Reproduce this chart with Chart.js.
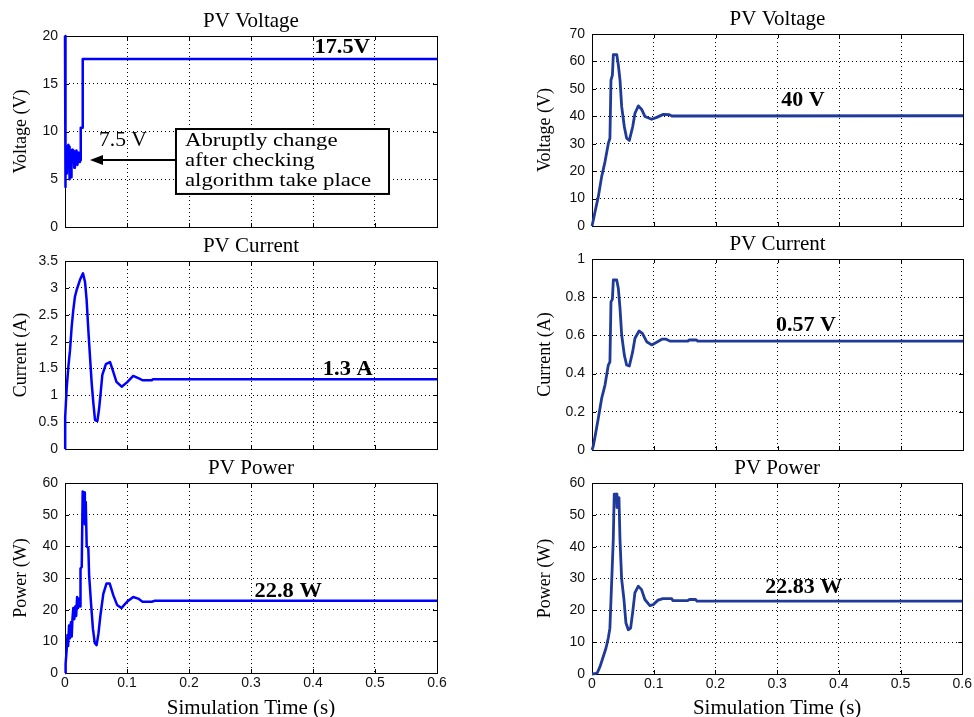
<!DOCTYPE html>
<html><head><meta charset="utf-8">
<script src="https://cdn.jsdelivr.net/npm/chart.js@4.4.1/dist/chart.umd.min.js"></script>
<style>
html,body{margin:0;padding:0;background:#fff;overflow:hidden;width:974px;height:717px}
#wrap{position:relative;width:974px;height:717px;overflow:hidden;background:#fff}
canvas{position:absolute;left:0;top:0}
</style></head><body><div id="wrap">
<canvas id="c1" width="974" height="760"></canvas>
<canvas id="c2" width="974" height="760"></canvas>
<canvas id="c3" width="974" height="760"></canvas>
<canvas id="c4" width="974" height="760"></canvas>
<canvas id="c5" width="974" height="760"></canvas>
<canvas id="c6" width="974" height="760"></canvas>
</div>
<script>
// ---------- DATA ----------
const xTickLabels = ['0','0.1','0.2','0.3','0.4','0.5','0.6'];

// Left column (blue)
const tVoltL = [0,0.0004,0.0012,0.002,0.003,0.004,0.0055,0.0065,0.007,0.0078,0.009,0.0098,0.0105,0.0115,0.0125,0.0135,0.015,0.016,0.017,0.0185,0.02,0.0215,0.023,0.024,0.0252,0.0254,0.0283,0.0286,0.6];
const vVoltL = [20,4.2,7.4,5.6,7.3,8.4,8.6,8.4,5.0,7.9,8.0,5.2,7.6,8.1,7.1,8.0,6.2,7.9,7.2,8.0,6.5,7.8,6.8,7.1,7.0,10.4,10.4,17.6,17.6];

const tCurrL = [0,0.0003,0.0027,0.0054,0.0081,0.0108,0.0134,0.0161,0.0188,0.0242,0.029,0.0323,0.0349,0.0376,0.0403,0.043,0.0457,0.0484,0.0522,0.0548,0.0575,0.0602,0.066,0.0726,0.0775,0.083,0.0914,0.1,0.110,0.12,0.125,0.14,0.142,0.6];
const vCurrL = [0,0.6,1.13,1.53,1.84,2.28,2.59,2.84,2.96,3.15,3.27,3.11,2.77,2.22,1.72,1.23,0.86,0.54,0.52,0.73,1.04,1.38,1.58,1.62,1.45,1.25,1.16,1.24,1.36,1.31,1.28,1.28,1.30,1.30];

const tPowL = [0,0.001,0.0027,0.004,0.005,0.0065,0.008,0.0095,0.0108,0.012,0.0134,0.015,0.0165,0.018,0.0195,0.021,0.023,0.0242,0.025,0.027,0.0285,0.031,0.032,0.0335,0.035,0.0376,0.039,0.042,0.045,0.048,0.051,0.054,0.057,0.0618,0.067,0.072,0.078,0.084,0.091,0.1,0.11,0.118,0.125,0.14,0.145,0.6];
const vPowL = [0,3,7.3,12,8.5,15,11,16,11.5,17,20.5,17,21,18,24,20.5,23.5,21,33,33.5,57.3,57,47,54,40,39.5,30.5,22,14,9.5,8.8,12.5,18,25,28.3,28.3,24.5,21.5,20.5,22.5,24,23.5,22.5,22.5,22.8,22.8];

// Right column (navy)
const tVoltR = [0,0.002,0.0049,0.0102,0.0156,0.021,0.0264,0.029,0.0307,0.033,0.0345,0.04,0.0426,0.0453,0.048,0.0523,0.056,0.0604,0.0658,0.0695,0.075,0.0803,0.0857,0.0965,0.1046,0.1154,0.125,0.129,0.15,0.6];
const vVoltR = [0,2,5.2,10.7,18,23.4,30.1,32,53.2,55,62.5,62.5,58.7,53.2,43.5,36.2,32,31.2,36.2,41.1,43.8,42.5,39.9,38.9,39.6,40.7,40.6,40.1,40.1,40.2];

const tCurrR = [0,0.002,0.0049,0.0102,0.0156,0.021,0.0264,0.029,0.0307,0.033,0.0345,0.04,0.0426,0.0453,0.048,0.0523,0.056,0.0604,0.0658,0.0695,0.0761,0.0815,0.0884,0.0965,0.1046,0.113,0.12,0.126,0.155,0.157,0.169,0.171,0.6];
const vCurrR = [0,0.02,0.07,0.166,0.27,0.34,0.445,0.462,0.776,0.79,0.89,0.89,0.846,0.742,0.602,0.497,0.445,0.44,0.515,0.585,0.623,0.611,0.567,0.55,0.564,0.58,0.58,0.57,0.57,0.576,0.576,0.57,0.57];

const tPowR = [0,0.005,0.0086,0.013,0.0183,0.0226,0.0264,0.029,0.0318,0.0345,0.036,0.04,0.0405,0.0437,0.0453,0.048,0.0518,0.055,0.0588,0.0626,0.0658,0.0695,0.075,0.0803,0.0857,0.0938,0.0992,0.107,0.115,0.129,0.131,0.155,0.158,0.168,0.17,0.6];
const vPowR = [0,0.1,0.4,2.3,5.5,8.1,11.3,14.4,28.6,42.3,56.5,56.5,52.3,55.4,42.5,29.9,23.4,16,13.9,14.4,19.2,25.5,27.6,26.5,23.4,21.5,21.8,23.2,23.7,23.7,23.05,23.05,23.4,23.4,22.9,22.9];

// ---------- STYLE / LAYOUT ----------
const CH = 760;
const SERIF = '"Liberation Serif","Times New Roman",serif';
const SANS = '"Liberation Sans",Arial,Helvetica,sans-serif';

function xy(ts, vs){ return ts.map((t,i)=>({x:t, y:vs[i]})); }

function drawText(ctx, text, px, py, font, align, sx){
  ctx.save();
  ctx.translate(px, py);
  ctx.scale(sx, 1);
  ctx.font = font;
  ctx.fillStyle = '#000';
  ctx.textAlign = align;
  ctx.textBaseline = 'middle';
  ctx.fillText(text, 0, 0);
  ctx.restore();
}

const matlabBox = {
  id: 'matlabBox',
  beforeDatasetsDraw(chart){
    const {ctx, chartArea:a, scales:{x, y}} = chart;
    ctx.save();
    ctx.strokeStyle = '#000';
    ctx.lineWidth = 1;
    ctx.beginPath();
    x.ticks.forEach(t => {
      const px = Math.round(x.getPixelForValue(t.value)) + 0.5;
      ctx.moveTo(px, a.bottom); ctx.lineTo(px, a.bottom - 4);
      ctx.moveTo(px, a.top); ctx.lineTo(px, a.top + 4);
    });
    y.ticks.forEach(t => {
      const py = Math.round(y.getPixelForValue(t.value)) + 0.5;
      ctx.moveTo(a.left, py); ctx.lineTo(a.left + 4, py);
      ctx.moveTo(a.right, py); ctx.lineTo(a.right - 4, py);
    });
    ctx.stroke();
    ctx.strokeRect(Math.round(a.left) + 0.5, Math.round(a.top) + 0.5, Math.round(a.right) - Math.round(a.left), Math.round(a.bottom) - Math.round(a.top));
    ctx.restore();
  },
  afterDatasetsDraw(chart, args, opts){
    const {ctx, scales:{x, y}} = chart;
    (opts.labels || []).forEach(l => {
      drawText(ctx, l.text, x.getPixelForValue(l.x), y.getPixelForValue(l.y), l.font, 'center', l.sx || 1);
    });
    const c = opts.callout;
    if (c) {
      const bx1 = x.getPixelForValue(c.box[0]), bx2 = x.getPixelForValue(c.box[1]);
      const by1 = y.getPixelForValue(c.box[2]), by2 = y.getPixelForValue(c.box[3]);
      const ay = y.getPixelForValue(c.arrowY), ax = x.getPixelForValue(c.arrowTip);
      ctx.save();
      ctx.strokeStyle = '#000';
      ctx.fillStyle = '#000';
      ctx.lineWidth = 2;
      ctx.beginPath();
      ctx.moveTo(bx1, ay); ctx.lineTo(ax + 10, ay);
      ctx.stroke();
      ctx.beginPath();
      ctx.moveTo(ax, ay); ctx.lineTo(ax + 13, ay - 5); ctx.lineTo(ax + 13, ay + 5); ctx.closePath();
      ctx.fill();
      ctx.fillStyle = '#fff';
      ctx.fillRect(bx1, by1, bx2 - bx1, by2 - by1);
      ctx.strokeRect(bx1, by1, bx2 - bx1, by2 - by1);
      ctx.restore();
      c.lines.forEach((ln, i) => {
        drawText(ctx, ln, x.getPixelForValue(c.textX), y.getPixelForValue(c.lineY[i]), c.font, 'left', c.sx);
      });
    }
  }
};

const panels = [
  {id:'c1', L:65, R:437, T:36, B:227, title:'PV Voltage', ylabel:'Voltage (V)', ymax:20, ystep:5, t:tVoltL, v:vVoltL, color:'#0000ff', lw:2.5, xlab:false,
   labels:[{text:'17.5V', x:0.447, y:18.74, font:'bold 20px '+SERIF, sx:1.12},
           {text:'7.5 V', x:0.0935, y:9.0, font:'20px '+SERIF, sx:1.08}],
   callout:{box:[0.179,0.5226,10.26,3.46], arrowY:7.02, arrowTip:0.0403, textX:0.1935, lineY:[9.0,6.91,4.82],
            lines:['Abruptly change','after checking','algorithm take place'], font:'19px '+SERIF, sx:1.2}},
  {id:'c2', L:65, R:437, T:261, B:449, title:'PV Current', ylabel:'Current (A)', ymax:3.5, ystep:0.5, t:tCurrL, v:vCurrL, color:'#0000ff', lw:2.5, xlab:false,
   labels:[{text:'1.3 A', x:0.456, y:1.47, font:'bold 20px '+SERIF, sx:1.12}]},
  {id:'c3', L:65, R:437, T:483, B:673, title:'PV Power', ylabel:'Power (W)', ymax:60, ystep:10, t:tPowL, v:vPowL, color:'#0000ff', lw:2.5, xlab:true,
   labels:[{text:'22.8 W', x:0.36, y:25.6, font:'bold 20px '+SERIF, sx:1.12}]},
  {id:'c4', L:592, R:963, T:34, B:226, title:'PV Voltage', ylabel:'Voltage (V)', ymax:70, ystep:10, t:tVoltR, v:vVoltR, color:'#1f3a98', lw:2.8, xlab:false,
   labels:[{text:'40 V', x:0.341, y:45.6, font:'bold 20px '+SERIF, sx:1.1}]},
  {id:'c5', L:592, R:963, T:259, B:450, title:'PV Current', ylabel:'Current (A)', ymax:1, ystep:0.2, t:tCurrR, v:vCurrR, color:'#1f3a98', lw:2.8, xlab:false,
   labels:[{text:'0.57 V', x:0.346, y:0.649, font:'bold 20px '+SERIF, sx:1.1}]},
  {id:'c6', L:592, R:963, T:483, B:674, title:'PV Power', ylabel:'Power (W)', ymax:60, ystep:10, t:tPowR, v:vPowR, color:'#1f3a98', lw:2.8, xlab:true,
   labels:[{text:'22.83 W', x:0.343, y:27.0, font:'bold 20px '+SERIF, sx:1.1}]}
];

const fmt = v => String(Math.round(v * 10) / 10);

panels.forEach(p => {
  const left = p.L < 300;
  const yw = left ? 60 : 70;
  const yTitlePad = left ? 5.2 : 12.2;
  const titleSize = 21, titleLH = titleSize * 1.2;
  const xTitleSize = 21, xTitleLH = xTitleSize * 1.2;
  const xh = p.xlab ? (708 - p.B + xTitleLH / 2) : 0;
  new Chart(document.getElementById(p.id), {
    type: 'line',
    data: {datasets: [{
      data: xy(p.t, p.v),
      borderColor: p.color,
      borderWidth: p.lw,
      pointRadius: 0,
      tension: 0,
      fill: false,
      clip: false,
      borderJoinStyle: 'round'
    }]},
    options: {
      responsive: false,
      animation: false,
      events: [],
      devicePixelRatio: 1,
      layout: {padding: {left: p.L - yw, right: 974 - p.R, top: p.T - 15 - titleLH / 2, bottom: CH - p.B - xh}},
      plugins: {
        legend: {display: false},
        tooltip: {enabled: false},
        title: {display: true, text: p.title, fullSize: false, color: '#000',
                font: {family: SERIF, size: titleSize, weight: 'normal'},
                padding: {top: 0, bottom: 15 - titleLH / 2}},
        matlabBox: {labels: p.labels, callout: p.callout}
      },
      scales: {
        x: {
          type: 'linear', min: 0, max: 0.6,
          afterFit: s => { s.height = xh; },
          grid: {color: '#000', lineWidth: 1, drawTicks: false},
          border: {display: false, dash: [1, 3]},
          ticks: {display: p.xlab, stepSize: 0.1, padding: 2, color: '#111', font: {family: SANS, size: 14},
                  maxRotation: 0, autoSkip: false, callback: (v, i) => xTickLabels[i] !== undefined ? fmt(v) : ''},
          title: {display: p.xlab, text: 'Simulation Time (s)', color: '#000',
                  font: {family: SERIF, size: xTitleSize}, padding: {top: 0, bottom: 0}}
        },
        y: {
          type: 'linear', min: 0, max: p.ymax,
          afterFit: s => { s.width = yw; },
          grid: {color: '#000', lineWidth: 1, drawTicks: false},
          border: {display: false, dash: [1, 3]},
          ticks: {stepSize: p.ystep, padding: 7, color: '#111', font: {family: SANS, size: 14}, callback: v => fmt(v)},
          title: {display: true, text: p.ylabel, color: '#000',
                  font: {family: SERIF, size: 18}, padding: {top: yTitlePad, bottom: 0}}
        }
      }
    },
    plugins: [matlabBox]
  });
});
</script>
</body></html>
